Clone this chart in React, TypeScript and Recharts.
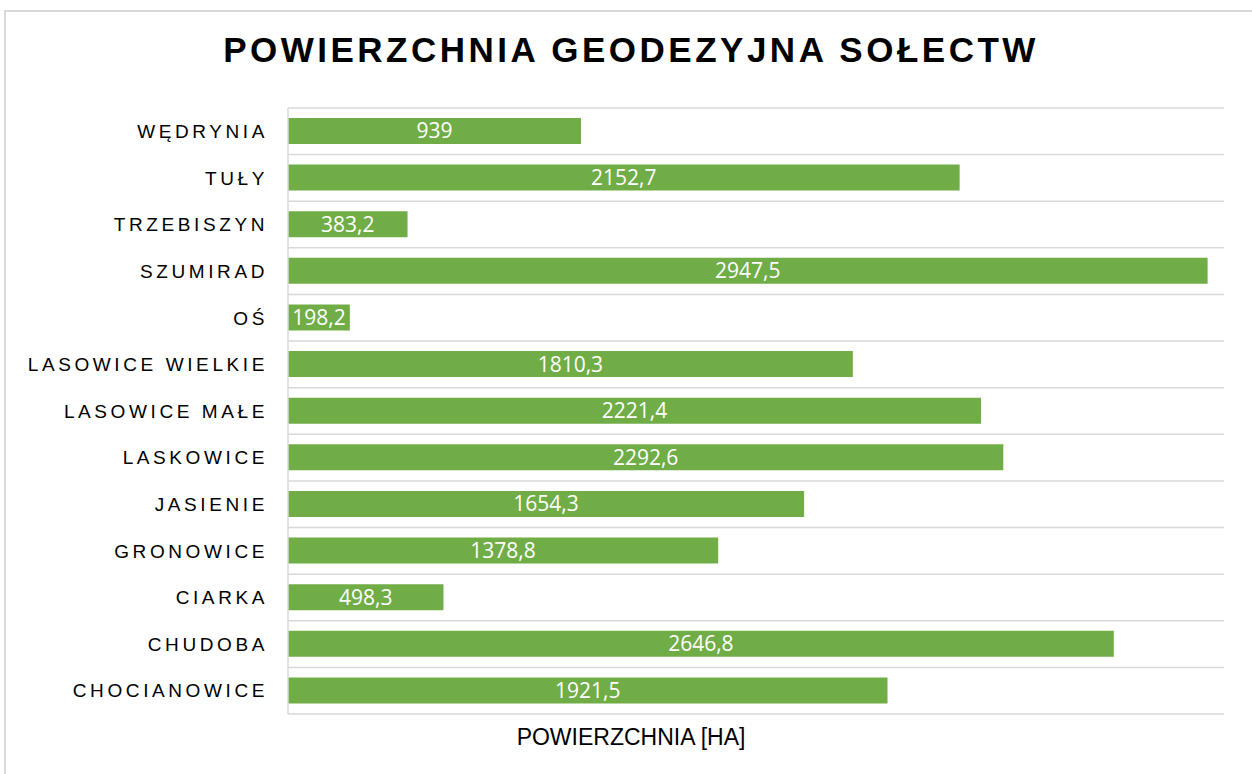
import { Bar, BarChart, CartesianGrid, LabelList, XAxis, YAxis } from 'recharts'

const villages = [
  'WĘDRYNIA',
  'TUŁY',
  'TRZEBISZYN',
  'SZUMIRAD',
  'OŚ',
  'LASOWICE WIELKIE',
  'LASOWICE MAŁE',
  'LASKOWICE',
  'JASIENIE',
  'GRONOWICE',
  'CIARKA',
  'CHUDOBA',
  'CHOCIANOWICE',
]

const areaHa = [939, 2152.7, 383.2, 2947.5, 198.2, 1810.3, 2221.4, 2292.6, 1654.3, 1378.8, 498.3, 2646.8, 1921.5]

const data = villages.map((name, i) => ({ name, area: areaHa[i] }))

const formatPl = (v: unknown) => String(v).replace('.', ',')

export default function App() {
  return (
    <div style={{ position: 'absolute', left: 0, top: 0, width: 1252, height: 774, background: '#fff', overflow: 'hidden' }}>
      <div
        style={{
          position: 'absolute',
          left: 4,
          top: 10,
          width: 1270,
          height: 800,
          border: '2px solid #d9d9d9',
          boxSizing: 'border-box',
        }}
      />
      <div
        style={{
          position: 'absolute',
          left: 0,
          top: 30,
          width: 1262,
          textAlign: 'center',
          fontFamily: 'Liberation Sans, Arial, sans-serif',
          fontWeight: 700,
          fontSize: 35,
          letterSpacing: 3.5,
          color: '#000',
        }}
      >
        POWIERZCHNIA GEODEZYJNA SOŁECTW
      </div>
      <div style={{ position: 'absolute', left: 0, top: 0 }}>
        <BarChart
          width={1252}
          height={774}
          data={data}
          layout="vertical"
          margin={{ top: 108, right: 28, bottom: 60, left: 0 }}
          barSize={26}
        >
          <CartesianGrid
            vertical={false}
            stroke="#d9d9d9"
            strokeWidth={1.5}
            horizontalCoordinatesGenerator={({ offset }: any) =>
              Array.from({ length: villages.length + 1 }, (_, i) => offset.top + (i * offset.height) / villages.length)
            }
          />
          <XAxis type="number" domain={[0, 3000]} hide />
          <YAxis
            type="category"
            dataKey="name"
            width={288}
            axisLine={{ stroke: '#d9d9d9', strokeWidth: 1.5 }}
            tickLine={false}
            tickMargin={14}
            tick={{ fill: '#000', fontSize: 19, letterSpacing: 3.6, fontFamily: 'Liberation Sans, Arial, sans-serif' }}
            interval={0}
          />
          <Bar dataKey="area" fill="#70ad47" isAnimationActive={false}>
            <LabelList
              dataKey="area"
              position="center"
              formatter={formatPl}
              fill="#fff"
              fontSize={21}
              fontFamily="Open Sans, sans-serif"
            />
          </Bar>
        </BarChart>
      </div>
      <div
        style={{
          position: 'absolute',
          left: 0,
          top: 724,
          width: 1262,
          textAlign: 'center',
          fontFamily: 'Liberation Sans, Arial, sans-serif',
          fontSize: 23,
          color: '#000',
        }}
      >
        POWIERZCHNIA [HA]
      </div>
    </div>
  )
}
